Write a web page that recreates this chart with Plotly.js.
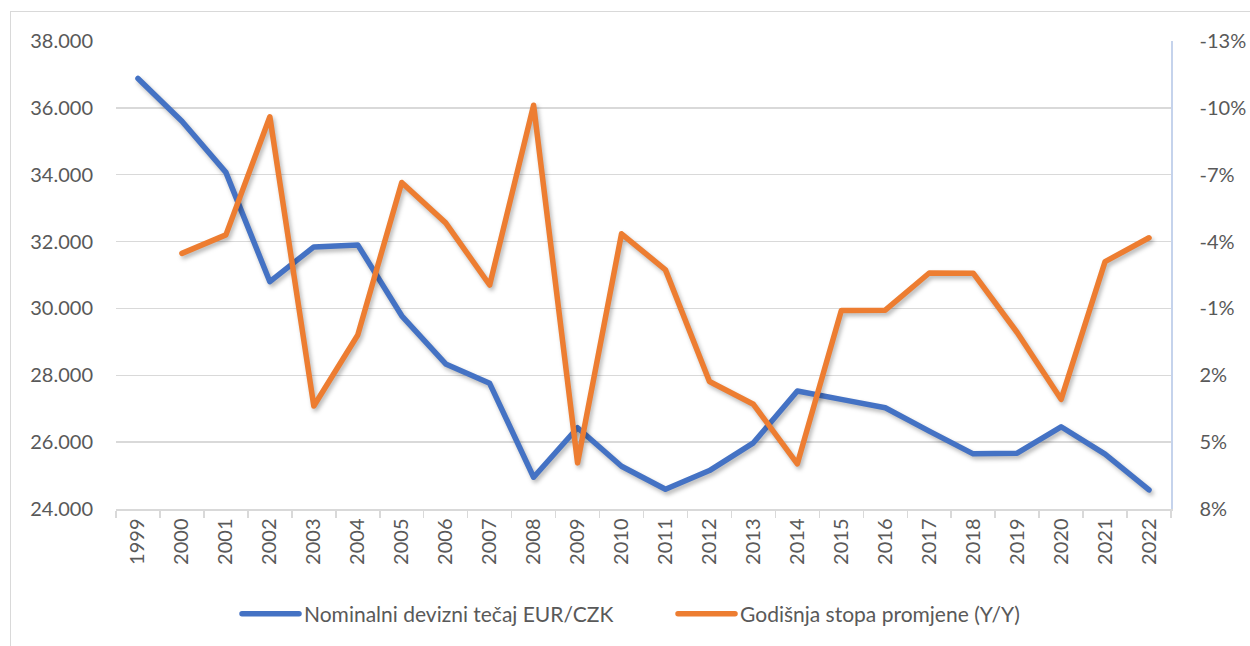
<!DOCTYPE html>
<html>
<head>
<meta charset="utf-8">
<script src="https://cdn.plot.ly/plotly-3.0.1.min.js"></script>
<style>
  html, body { margin: 0; padding: 0; background: #fff; }
  #chart { width: 1250px; height: 646px; }
  #frame { position: absolute; left: 10px; top: 11px; width: 1400px; height: 800px;
           border: 1px solid #D9D9D9; pointer-events: none; }
  .scatterlayer path.js-line { stroke-linecap: round; stroke-linejoin: round; }
  .scatterlayer .trace { filter: drop-shadow(2px 3px 2px rgba(0,0,0,0.28)); }
  .legendlines path { stroke-linecap: round; }
</style>
</head>
<body>
<div id="chart"></div>
<div id="frame"></div>
<script>
const years = ['1999','2000','2001','2002','2003','2004','2005','2006','2007','2008','2009','2010',
               '2011','2012','2013','2014','2015','2016','2017','2018','2019','2020','2021','2022'];
const exchangeRate = [36.88, 35.60, 34.07, 30.80, 31.84, 31.90, 29.78, 28.34, 27.76, 24.95, 26.43, 25.28,
                      24.59, 25.15, 25.98, 27.53, 27.28, 27.03, 26.33, 25.65, 25.67, 26.46, 25.64, 24.57];
const annualChange = [null, -3.47, -4.30, -9.60, 3.38, 0.19, -6.65, -4.84, -2.05, -10.12, 5.93, -4.35,
                      -2.73, 2.28, 3.30, 5.97, -0.91, -0.92, -2.59, -2.58, 0.08, 3.08, -3.10, -4.17];
const leftTicks = [24, 26, 28, 30, 32, 34, 36, 38];
const rightTicks = [-13, -10, -7, -4, -1, 2, 5, 8];
const rightTickText = ['-13%', '-10%', '-7%', '-4%', '-1%', '2%', '5%', '8%'];
const seriesNames = ['Nominalni devizni tečaj EUR/CZK', 'Godišnja stopa promjene (Y/Y)'];

const fontFam = 'Lato, "Open Sans", sans-serif';
const txt = '#595959';

const traces = [
  { x: years, y: exchangeRate, name: seriesNames[0], type: 'scatter', mode: 'lines',
    line: { color: '#4472C4', width: 5.5 }, yaxis: 'y' },
  { x: years, y: annualChange, name: seriesNames[1], type: 'scatter', mode: 'lines',
    line: { color: '#ED7D31', width: 5.5 }, yaxis: 'y2', connectgaps: false }
];

const layout = {
  width: 1250, height: 646,
  margin: { l: 116, r: 79, t: 41, b: 136 },
  paper_bgcolor: '#fff', plot_bgcolor: '#fff',
  font: { family: fontFam, color: txt, size: 20 },
  showlegend: true,
  legend: { orientation: 'h', x: 0.1147, xanchor: 'left', y: -0.222, yanchor: 'middle',
            font: { family: fontFam, size: 21, color: txt }, entrywidth: 391, entrywidthmode: 'pixels' },
  xaxis: {
    type: 'category', range: [-0.5, 23.5], tickangle: -90,
    showline: true, linecolor: '#D9D9D9', linewidth: 1.5,
    ticks: 'outside', tickson: 'boundaries', ticklen: 7, tickcolor: '#D9D9D9', tickwidth: 1.5,
    showgrid: false, zeroline: false,
    tickfont: { family: fontFam, size: 20, color: txt }
  },
  yaxis: {
    range: [24, 38], tickvals: leftTicks, tickformat: '.3f',
    showgrid: true, gridcolor: '#D9D9D9', gridwidth: 1.5, zeroline: false, showline: false,
    ticks: '', ticklabelstandoff: 22,
    tickfont: { family: fontFam, size: 20, color: txt }
  },
  yaxis2: {
    overlaying: 'y', side: 'right', range: [8, -13], tickvals: rightTicks, ticktext: rightTickText,
    showgrid: false, zeroline: false, showline: true, linecolor: '#C5D3EC', linewidth: 1.5,
    ticks: '', ticklabelstandoff: 23,
    tickfont: { family: fontFam, size: 20, color: txt }
  }
};

function stretchLegendLines() {
  document.querySelectorAll('#chart .legend .legendlines path').forEach(function (p) {
    p.setAttribute('d', 'M5,0h57');
  });
  document.querySelectorAll('#chart .legend text.legendtext').forEach(function (t) {
    t.setAttribute('x', '67');
  });
}

Plotly.newPlot('chart', traces, layout, { displayModeBar: false, staticPlot: true }).then(function (gd) {
  stretchLegendLines();
  gd.on('plotly_afterplot', stretchLegendLines);
  setTimeout(stretchLegendLines, 50);
});
</script>
</body>
</html>
